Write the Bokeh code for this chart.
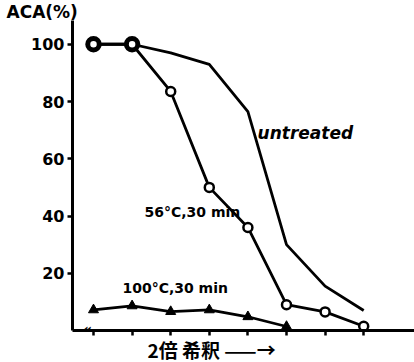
from bokeh.plotting import figure
from bokeh.models import Label, Title, FixedTicker
from bokeh.embed import file_html
from bokeh.resources import INLINE

# data
steps = [1, 2, 3, 4, 5, 6, 7, 8]
untreated = [100, 100, 97, 93, 76.5, 30, 15.5, 7]
heat56 = [100, 100, 83.5, 50, 36, 9, 6.5, 1.5]
steps100 = [1, 2, 3, 4, 5, 6]
heat100 = [7.2, 8.6, 6.6, 7.2, 4.8, 1.4]
y_ticks = [20, 40, 60, 80, 100]

p = figure(width=414, height=362, x_range=(0.456, 9.316), y_range=(0, 108.3),
           output_backend="svg", toolbar_location=None,
           min_border_left=72, min_border_right=0, min_border_top=0, min_border_bottom=0)
p.outline_line_color = None
p.xgrid.grid_line_color = None
p.ygrid.grid_line_color = None
p.background_fill_color = "white"
p.border_fill_color = "white"

# y-axis title above the frame
p.title.text = "ACA(%)"
p.title.align = "left"
p.title.offset = -66
p.title.text_font = "DejaVu Sans"
p.title.text_font_size = "17px"
p.title.text_font_style = "bold"
p.title.text_color = "black"
p.title.standoff = -2

# axes
for ax in (p.xaxis[0], p.yaxis[0]):
    ax.axis_line_width = 3
    ax.axis_line_color = "black"
    ax.major_tick_line_width = 2.5
    ax.major_tick_line_color = "black"
    ax.major_tick_in = 0
    ax.major_tick_out = 5
    ax.minor_tick_line_color = None
p.yaxis.ticker = FixedTicker(ticks=y_ticks)
p.yaxis.major_label_text_font = "DejaVu Sans"
p.yaxis.major_label_text_font_style = "bold"
p.yaxis.major_label_text_font_size = "16px"
p.yaxis.major_label_text_color = "black"
p.yaxis.major_label_standoff = 3
p.xaxis.ticker = FixedTicker(ticks=steps)
p.xaxis.major_label_overrides = {s: "" for s in steps}
p.xaxis.major_label_standoff = 0
p.xaxis.major_label_text_font_size = "1px"

# x-axis title below
p.add_layout(Title(text="2倍  希釈 ——→", align="left", offset=75,
                   text_font="Noto Sans CJK JP", text_font_size="19px",
                   text_font_style="bold", text_color="black",
                   text_line_height=0.8, vertical_align="middle", standoff=-2), "below")

# series
p.line(steps, untreated, line_width=2.8, color="black")
p.line(steps, heat56, line_width=2.8, color="black")
p.line(steps100, heat100, line_width=2.8, color="black")
p.scatter(steps[:2], untreated[:2], marker="circle", size=13, line_width=3.5,
          line_color="black", fill_color="white")
p.scatter(steps, heat56, marker="circle", size=9, line_width=2.5,
          line_color="black", fill_color="white")
p.scatter(steps100, heat100, marker="triangle", size=10, line_color="black",
          fill_color="black")

font = "DejaVu Sans"
def lab(x, y, t, size, style="bold", align="left"):
    p.add_layout(Label(x=x, y=y, text=t, text_font=font, text_font_size=size,
                       text_font_style=style, text_align=align,
                       text_baseline="middle", text_color="black"))

lab(5.25, 68.9, "untreated", "17px", style="bold italic")
lab(2.32, 41.5, "56°C,30 min", "14px")
lab(1.75, 14.9, "100°C,30 min", "14px")
lab(0.845, 0.6, "«", "14px", align="center")

open("out.html", "w").write(file_html(p, INLINE))
